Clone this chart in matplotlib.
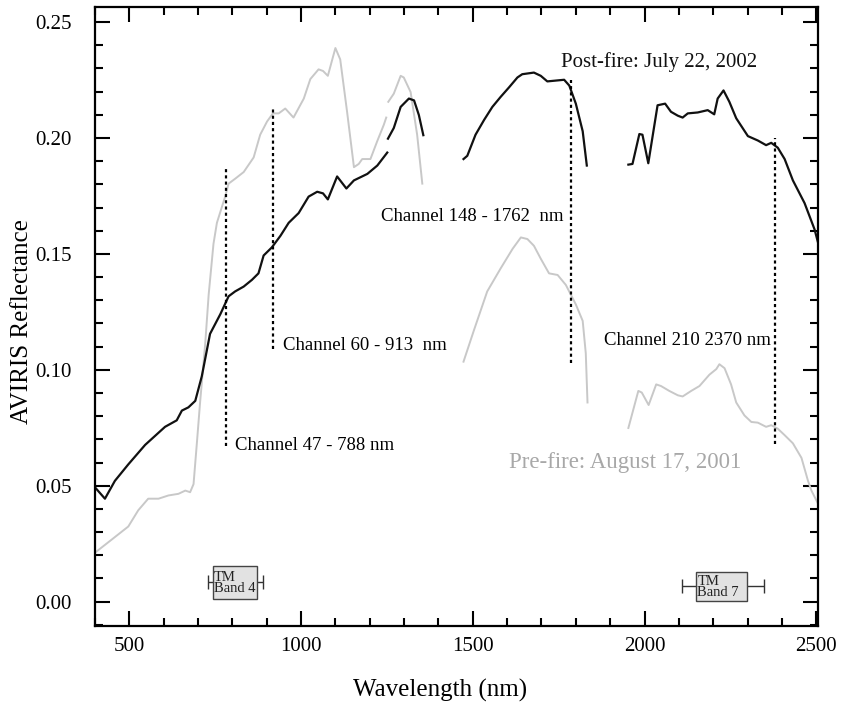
import matplotlib
matplotlib.use("Agg")
import matplotlib.pyplot as plt
from matplotlib.patches import Rectangle
from matplotlib.ticker import MultipleLocator

plt.rcParams['font.family'] = ['Liberation Serif', 'DejaVu Serif']

# ---------------- data ----------------
post_seg1_x = [400, 429, 458, 497, 546, 604, 638, 653, 672, 692, 711, 735, 765, 789, 808, 833,
               857, 876, 891, 915, 940, 964, 993, 1022, 1047, 1064, 1078, 1105, 1132, 1154, 1193, 1222, 1251]
post_seg1_y = [0.0493, 0.0444, 0.0521, 0.0592, 0.0676, 0.0754, 0.0782, 0.0824, 0.0838, 0.0866, 0.0972,
               0.1155, 0.1240, 0.1317, 0.1338, 0.1359, 0.1388, 0.1416, 0.1493, 0.1528, 0.1578, 0.1634,
               0.1676, 0.1747, 0.1768, 0.1761, 0.1735, 0.1834, 0.1782, 0.1817, 0.1845, 0.1881, 0.1937]
post_seg2_x = [1253, 1270, 1290, 1314, 1329, 1343, 1356]
post_seg2_y = [0.1997, 0.2043, 0.2134, 0.2170, 0.2162, 0.2099, 0.2012]
post_seg3_x = [1473, 1484, 1508, 1533, 1557, 1581, 1606, 1630, 1644, 1678, 1698, 1717, 1766, 1781, 1800, 1820, 1832]
post_seg3_y = [0.1909, 0.1923, 0.2014, 0.2078, 0.2134, 0.2177, 0.2219, 0.2261, 0.2275, 0.2282, 0.2268,
               0.2244, 0.2251, 0.2226, 0.2148, 0.2029, 0.1881]
post_seg4_x = [1953, 1965, 1985, 1994, 2011, 2038, 2060, 2077, 2097, 2111, 2126, 2155, 2184, 2203, 2213,
               2230, 2247, 2267, 2301, 2330, 2354, 2369, 2388, 2408, 2432, 2466, 2495, 2505]
post_seg4_y = [0.1885, 0.1888, 0.2017, 0.2014, 0.1891, 0.2141, 0.2148, 0.2113, 0.2096, 0.2088, 0.2106,
               0.2110, 0.2120, 0.2102, 0.2170, 0.2205, 0.2156, 0.2085, 0.2008, 0.1989, 0.1969, 0.1979,
               0.1958, 0.1909, 0.1817, 0.1719, 0.1606, 0.1550]

pre_seg1_x = [400, 449, 497, 526, 555, 585, 614, 643, 663, 677, 687, 697, 706, 721, 731, 745, 755, 779,
              789, 808, 833, 862, 881, 901, 918, 935, 954, 978, 1008, 1027, 1051, 1064, 1078, 1100, 1114,
              1134, 1154, 1168, 1178, 1202, 1222, 1241, 1248]
pre_seg1_y = [0.0211, 0.0268, 0.0324, 0.0394, 0.0444, 0.0444, 0.0458, 0.0465, 0.0479, 0.0472, 0.0507,
              0.0690, 0.0859, 0.1113, 0.1324, 0.1543, 0.1634, 0.1747, 0.1803, 0.1824, 0.1853, 0.1916,
              0.2014, 0.2071, 0.2106, 0.2106, 0.2127, 0.2088, 0.2170, 0.2254, 0.2296, 0.2289, 0.2268,
              0.2388, 0.2339, 0.2113, 0.1874, 0.1888, 0.1909, 0.1909, 0.1987, 0.2057, 0.2088]
pre_seg2_x = [1254, 1270, 1290, 1299, 1319, 1338, 1353]
pre_seg2_y = [0.2156, 0.2191, 0.2268, 0.2261, 0.2198, 0.2014, 0.1803]
pre_seg3_x = [1473, 1503, 1542, 1581, 1616, 1640, 1659, 1678, 1698, 1722, 1747, 1771, 1800, 1820, 1829, 1834]
pre_seg3_y = [0.1035, 0.1169, 0.1338, 0.1437, 0.1522, 0.1571, 0.1564, 0.1535, 0.1479, 0.1416, 0.1409,
              0.1366, 0.1282, 0.1211, 0.1071, 0.0859]
pre_seg4_x = [1953, 1982, 1992, 2012, 2034, 2048, 2072, 2097, 2111, 2136, 2160, 2189, 2209, 2218, 2233,
              2252, 2267, 2291, 2311, 2330, 2354, 2369, 2388, 2408, 2432, 2457, 2476, 2486, 2505]
pre_seg4_y = [0.0749, 0.0909, 0.0902, 0.0848, 0.0937, 0.0930, 0.0909, 0.0890, 0.0885, 0.0909, 0.0930,
              0.0979, 0.1003, 0.1024, 0.1007, 0.0937, 0.0859, 0.0803, 0.0775, 0.0772, 0.0754, 0.0761,
              0.0746, 0.0718, 0.0683, 0.0620, 0.0521, 0.0479, 0.0423]

channel_labels = ["Channel 47 - 788 nm", "Channel 60 - 913  nm", "Channel 148 - 1762  nm", "Channel 210 2370 nm"]
channel_nm = [782, 918, 1787, 2379]
channel_lo = [0.067, 0.109, 0.103, 0.068]
channel_hi = [0.187, 0.213, 0.225, 0.200]

tm_labels = ["TM\nBand 4", "TM\nBand 7"]
tm_lo = [730, 2108]
tm_hi = [889, 2348]

post_label = "Post-fire: July 22, 2002"
pre_label = "Pre-fire: August 17, 2001"

# ---------------- figure ----------------
fig = plt.figure(figsize=(8.45, 7.05), dpi=100)
ax = fig.add_axes([0.1124, 0.1121, 0.8556, 0.878])

grey = '#c8c8c8'
for xs, ys in [(pre_seg1_x, pre_seg1_y), (pre_seg2_x, pre_seg2_y),
               (pre_seg3_x, pre_seg3_y), (pre_seg4_x, pre_seg4_y)]:
    ax.plot(xs, ys, color=grey, lw=1.4, solid_joinstyle='round')
for xs, ys in [(post_seg1_x, post_seg1_y), (post_seg2_x, post_seg2_y),
               (post_seg3_x, post_seg3_y), (post_seg4_x, post_seg4_y)]:
    ax.plot(xs, ys, color='#111111', lw=1.6, solid_joinstyle='round')

for x, lo, hi in zip(channel_nm, channel_lo, channel_hi):
    ax.plot([x, x], [lo, hi], color='black', lw=1.6, linestyle=(0, (1.4, 1.4)))

# channel labels
ax.text(808, 0.0673, channel_labels[0], fontsize=13.5, ha='left', va='center')
ax.text(948, 0.1103, channel_labels[1], fontsize=13.5, ha='left', va='center')
ax.text(1765, 0.1663, channel_labels[2], fontsize=13.5, ha='right', va='center')
ax.text(2369, 0.1127, channel_labels[3], fontsize=13.5, ha='right', va='center')

ax.text(1756, 0.2326, post_label, fontsize=15, ha='left', va='center', color='#111111')
ax.text(1604, 0.0600, pre_label, fontsize=16.5, ha='left', va='center', color='#a8a8a8')

# TM band boxes
box_x = [(743, 873), (2150, 2298)]
box_y = [(0.0011, 0.0155), (0.0003, 0.0129)]
for lab, lo, hi, (bx0, bx1), (by0, by1) in zip(tm_labels, tm_lo, tm_hi, box_x, box_y):
    yc = (by0 + by1) / 2
    ax.errorbar([(lo + hi) / 2], [yc], xerr=[[(hi - lo) / 2], [(hi - lo) / 2]],
                fmt='none', ecolor='#333333', elinewidth=1.0, capsize=5, capthick=1.0)
    ax.add_patch(Rectangle((bx0, by0), bx1 - bx0, by1 - by0, facecolor='#e2e2e2',
                           edgecolor='#444444', lw=1.0, zorder=3))
    ax.text(bx0 + 4, yc - 0.0003, lab, fontsize=10.5, ha='left', va='center', linespacing=0.8, zorder=4,
            color='#222222')

ax.set_xlim(400, 2505)
ax.set_ylim(-0.0105, 0.2565)
ax.xaxis.set_major_locator(MultipleLocator(500))
ax.xaxis.set_minor_locator(MultipleLocator(100))
ax.yaxis.set_major_locator(MultipleLocator(0.05))
ax.yaxis.set_minor_locator(MultipleLocator(0.01))
ax.yaxis.set_major_formatter(plt.FuncFormatter(lambda v, p: f"{v:.2f}"))

ax.tick_params(which='both', direction='in', top=True, right=True, width=1.5, labelsize=15)
ax.tick_params(which='major', length=11)
ax.tick_params(which='minor', length=6)
ax.tick_params(axis='x', pad=8)
ax.tick_params(axis='y', pad=17)
for s in ax.spines.values():
    s.set_linewidth(1.6)

ax.set_xlabel("Wavelength (nm)", fontsize=18, va='center')
ax.set_ylabel("AVIRIS Reflectance", fontsize=18, va='center')
ax.xaxis.set_label_coords(0.477, -0.1034)
ax.yaxis.set_label_coords(-0.101, 0.491)

fig.savefig("out.png", dpi=100)
